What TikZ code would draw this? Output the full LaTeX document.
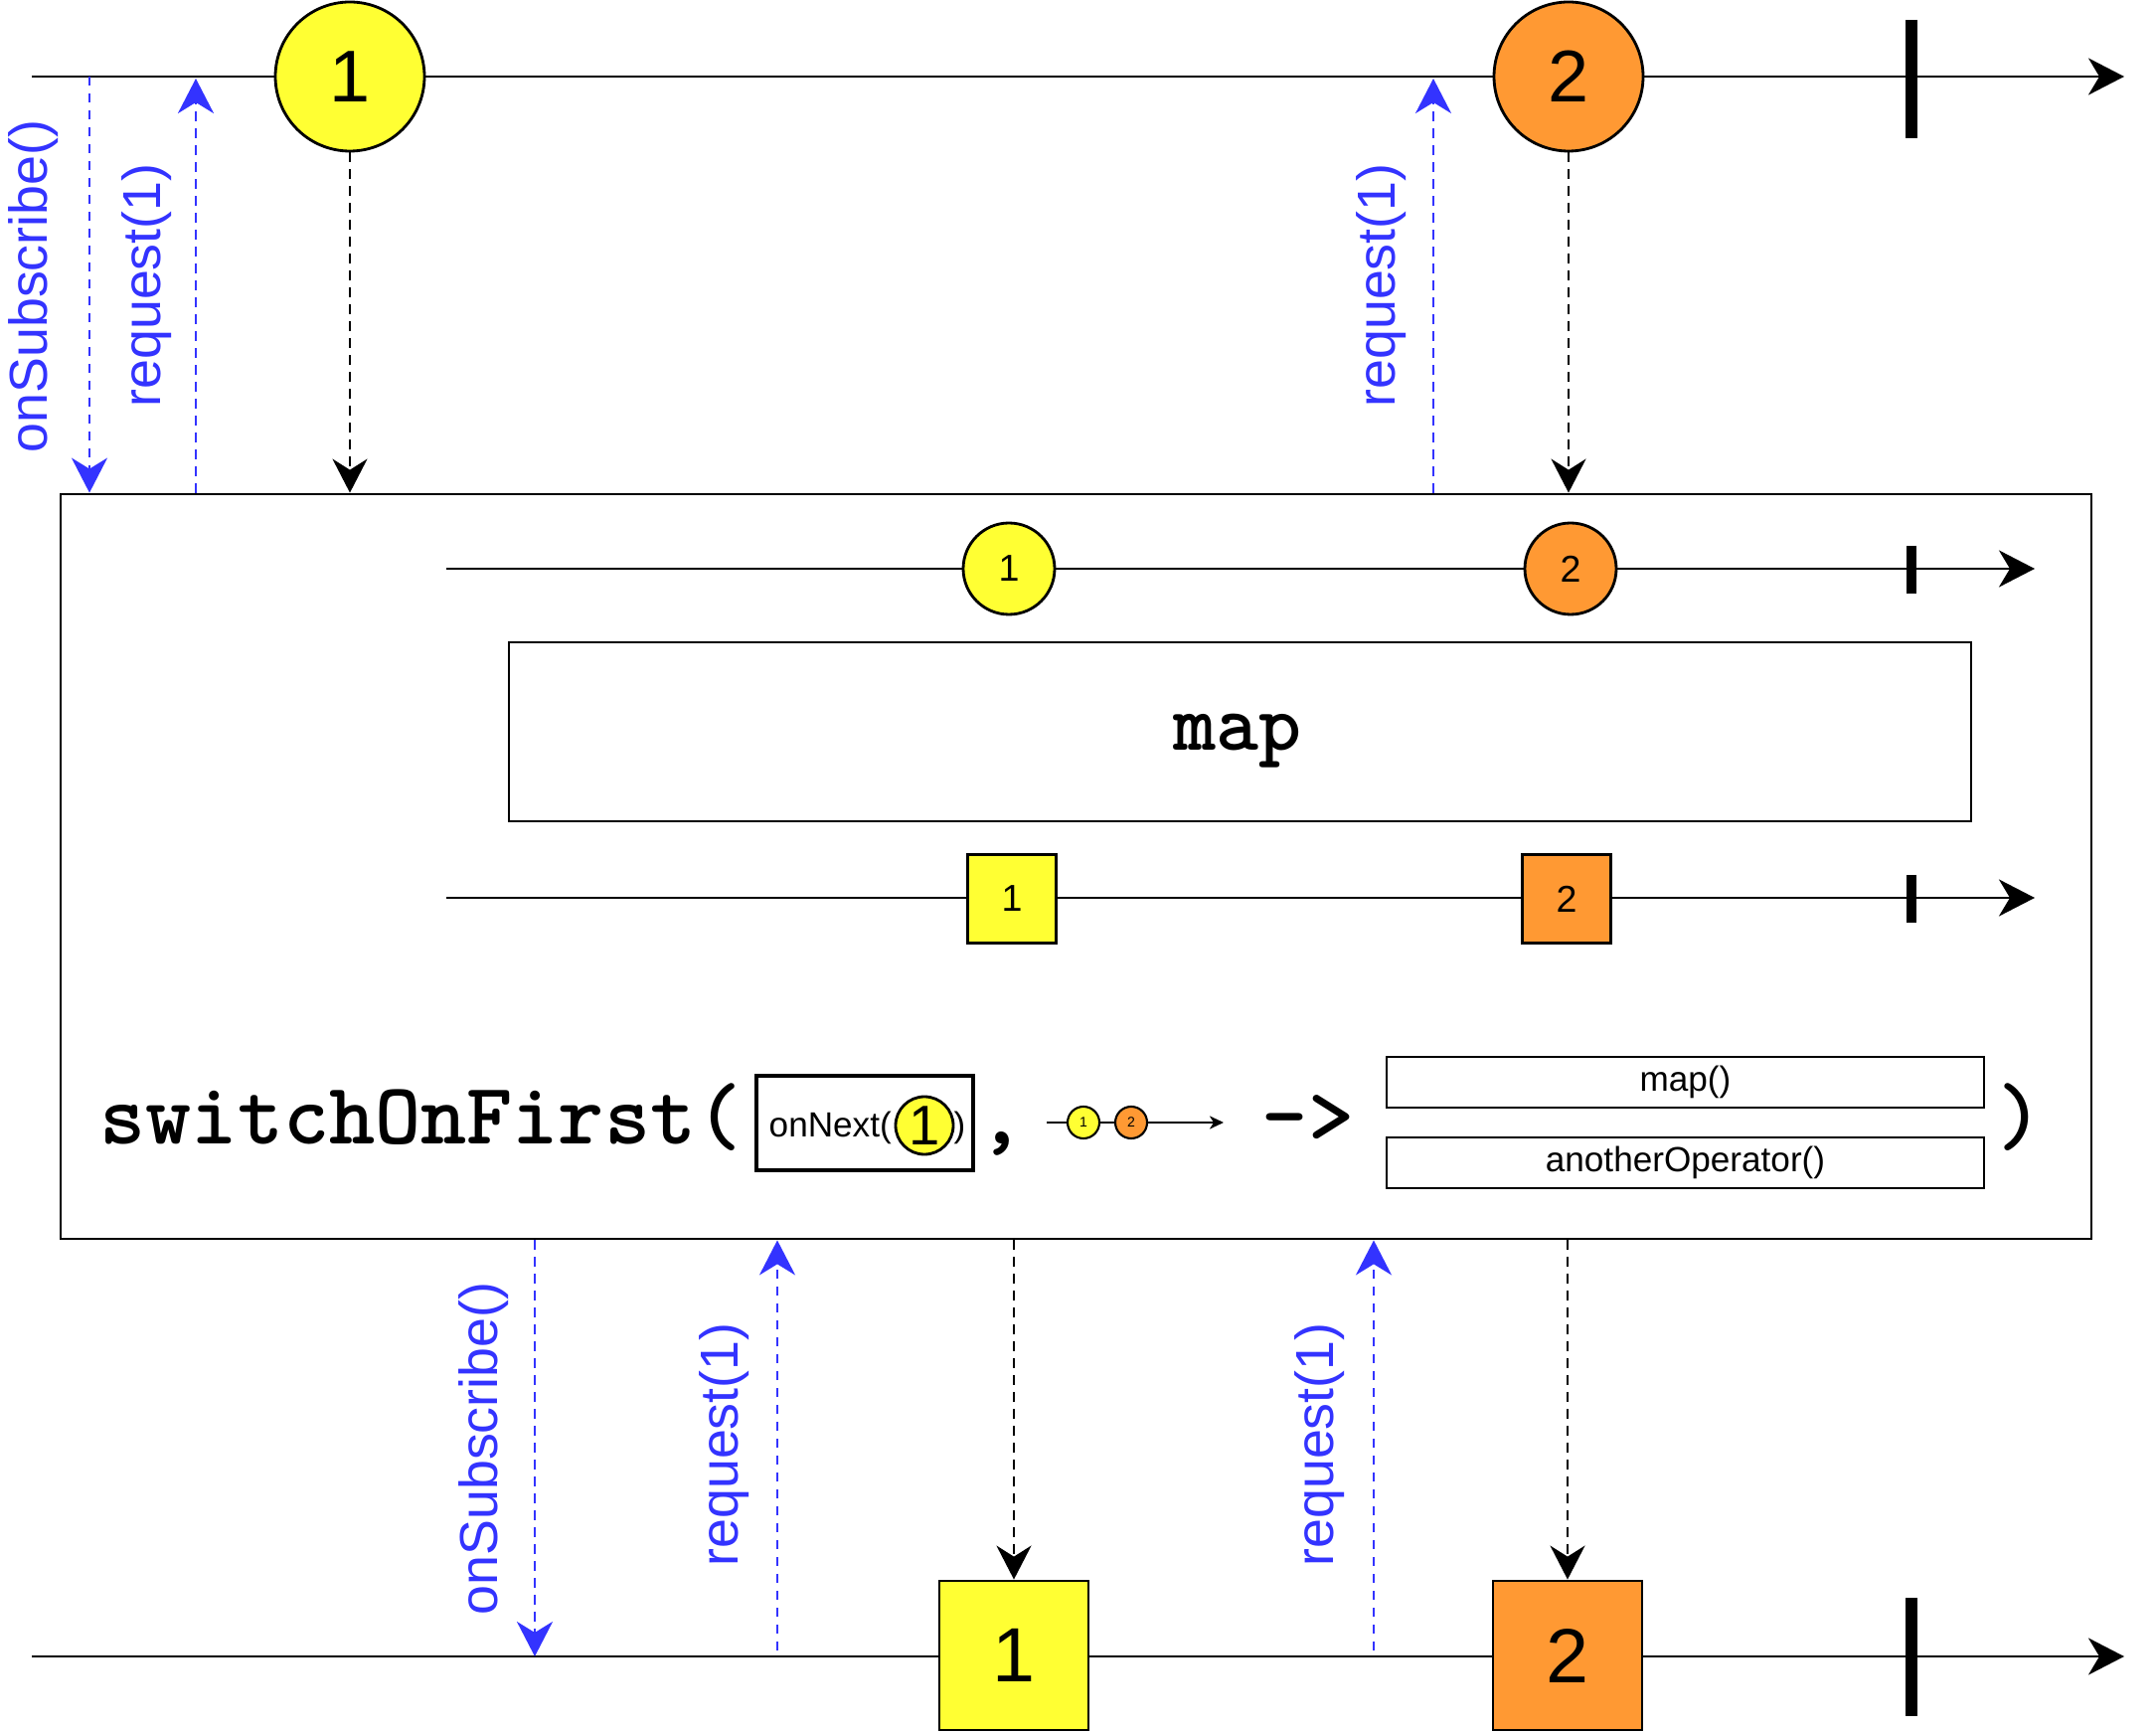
\documentclass[tikz,border=0pt]{standalone}
\usepackage{fontspec}
\setmainfont{Liberation Sans}
\newfontfamily\codefont{lmmonolt10-bold.otf}
\usetikzlibrary{arrows.meta}
\definecolor{yel}{HTML}{FFFF33}
\definecolor{org}{HTML}{FF9933}
\definecolor{sig}{HTML}{3333FF}
\begin{document}
\begin{tikzpicture}[x=0.1mm, y=-0.1mm,
    timeline/.style={line width=0.8pt, -{Stealth[length=3.6mm, width=3.7mm, inset=1.1mm]}},
    sigline/.style={sig, line width=0.75pt, dash pattern=on 0.95mm off 0.75mm, -{Stealth[length=3.5mm, width=3.6mm, inset=1.1mm]}},
    dataline/.style={black, line width=0.75pt, dash pattern=on 0.95mm off 0.75mm, -{Stealth[length=3.4mm, width=3.5mm, inset=1.1mm]}},
    siglabel/.style={sig, rotate=90, inner sep=0pt, font=\fontsize{15.3}{16}\selectfont},
    bigball/.style={circle, draw, line width=0.8pt, minimum size=15mm, inner sep=0pt, font=\fontsize{21}{21}\selectfont},
    smallball/.style={circle, draw, line width=0.8pt, minimum size=9.2mm, inner sep=0pt, font=\fontsize{10.7}{11}\selectfont},
    bigsq/.style={draw, line width=0.8pt, minimum size=15mm, inner sep=0pt, font=\fontsize{22}{22}\selectfont},
    smallsq/.style={draw, line width=0.8pt, minimum size=8.9mm, inner sep=0pt, font=\fontsize{10.7}{11}\selectfont},
    endbar/.style={line width=3.4pt},
    mono/.style={inner sep=0pt, font=\codefont\fontsize{25}{25}\selectfont},
    opbox/.style={draw, line width=0.8pt, minimum width=60.1mm, minimum height=5.1mm, inner sep=0pt, font=\fontsize{10}{10}\selectfont}]
    \useasboundingbox (0,0) rectangle (2169,1743);

    % Upstream
    \coordinate (a0) at (32,77);
    \coordinate (a1) at (2137,77);
    \draw[timeline] (a0) -- (a1);
    \node[bigball, fill=yel] (u1) at (352,77) {1};
    \node[bigball, fill=org] (u2) at (1578,77) {2};
    \draw[endbar] (1923,20) -- (1923,139);

    % Operator box
    \node[draw, line width=0.8pt, minimum width=204.3mm, minimum height=74.9mm, inner sep=0pt] (op) at (1082.5,871.5) {};

    % Upstream signals
    \coordinate (s0) at (90,77);
    \coordinate (r0) at (197,79);
    \coordinate (r1) at (1442,79);
    \draw[sigline] (s0) -- (s0 |- op.north);
    \draw[sigline] (r0 |- op.north) -- (r0);
    \draw[sigline] (r1 |- op.north) -- (r1);
    \node[siglabel] (l0) at (34,288) {onSubscribe()};
    \node[siglabel] (l1) at (148,287) {request(1)};
    \node[siglabel] (l2) at (1390,287) {request(1)};
    \draw[dataline] (u1) -- (u1 |- op.north);
    \draw[dataline] (u2) -- (u2 |- op.north);

    % Inner map
    \coordinate (b0) at (449,572);
    \coordinate (b1) at (2047,572);
    \draw[timeline] (b0) -- (b1);
    \node[smallball, fill=yel] (m1) at (1015,572) {1};
    \node[smallball, fill=org] (m2) at (1580,572) {2};
    \draw[line width=2.8pt] (1923,549) -- (1923,597);
    \node[draw, line width=0.8pt, minimum width=147.1mm, minimum height=18mm, inner sep=0pt] (mapbox) at (1247.5,736) {};
    \node[mono, font=\codefont\fontsize{23.3}{24}\selectfont] (maptxt) at (1245,745) {map};
    \coordinate (c0) at (449,903);
    \coordinate (c1) at (2047,903);
    \draw[timeline] (c0) -- (c1);
    \node[smallsq, fill=yel] (q1) at (1018,904) {1};
    \node[smallsq, fill=org] (q2) at (1576,904) {2};
    \draw[line width=2.8pt] (1923,880) -- (1923,928);

    % switchOnFirst line
    \node[mono, anchor=base west] (sw) at (100,1150) {switchOnFirst(};
    \node[draw, line width=1.4pt, minimum width=21.8mm, minimum height=9.5mm, inner sep=0pt] (nxt) at (870,1129.5) {};
    \node[anchor=base west, inner sep=0pt, font=\fontsize{10}{10}\selectfont] (nxtl) at (773,1143) {onNext(};
    \node[circle, draw, line width=0.8pt, fill=yel, minimum size=5.8mm, inner sep=0pt, font=\fontsize{16}{16}\selectfont] (n1) at (930,1132) {1};
    \node[anchor=base west, inner sep=0pt, font=\fontsize{10}{10}\selectfont] (nxtr) at (959,1143) {)};
    \node[mono, anchor=base] (comma) at (1008,1150) {,};
    \coordinate (k0) at (1053,1129);
    \coordinate (k1) at (1231,1129);
    \draw[line width=0.6pt, -{Stealth[length=1.4mm, width=1.3mm, inset=0.4mm]}] (k0) -- (k1);
    \node[circle, draw, line width=0.6pt, fill=yel, minimum size=3.2mm, inner sep=0pt, font=\fontsize{4}{4}\selectfont] (k1y) at (1090,1129) {1};
    \node[circle, draw, line width=0.6pt, fill=org, minimum size=3.2mm, inner sep=0pt, font=\fontsize{4}{4}\selectfont] (k2o) at (1138,1129) {2};
    \node[mono, anchor=base] (arr) at (1316,1150) {->};
    \node[opbox] (op1) at (1695.5,1088.5) {map()};
    \node[opbox] (op2) at (1695.5,1169.5) {anotherOperator()};
    \node[mono, anchor=base] (close) at (2033,1150) {)};

    % Downstream
    \coordinate (d0) at (32,1666);
    \coordinate (d1) at (2137,1666);
    \draw[timeline] (d0) -- (d1);
    \node[bigsq, fill=yel] (v1) at (1020,1665) {1};
    \node[bigsq, fill=org] (v2) at (1577,1665) {2};
    \draw[endbar] (1923,1607) -- (1923,1726);

    % Downstream signals
    \coordinate (s1) at (538,1666);
    \coordinate (r2) at (782,1660);
    \coordinate (r3) at (1382,1660);
    \draw[sigline] (s1 |- op.south) -- (s1);
    \draw[sigline] (r2) -- (r2 |- op.south);
    \draw[sigline] (r3) -- (r3 |- op.south);
    \node[siglabel] (l3) at (487,1457) {onSubscribe()};
    \node[siglabel] (l4) at (729,1453) {request(1)};
    \node[siglabel] (l5) at (1328,1453) {request(1)};
    \draw[dataline] (v1 |- op.south) -- (v1);
    \draw[dataline] (v2 |- op.south) -- (v2);
\end{tikzpicture}
\end{document}
